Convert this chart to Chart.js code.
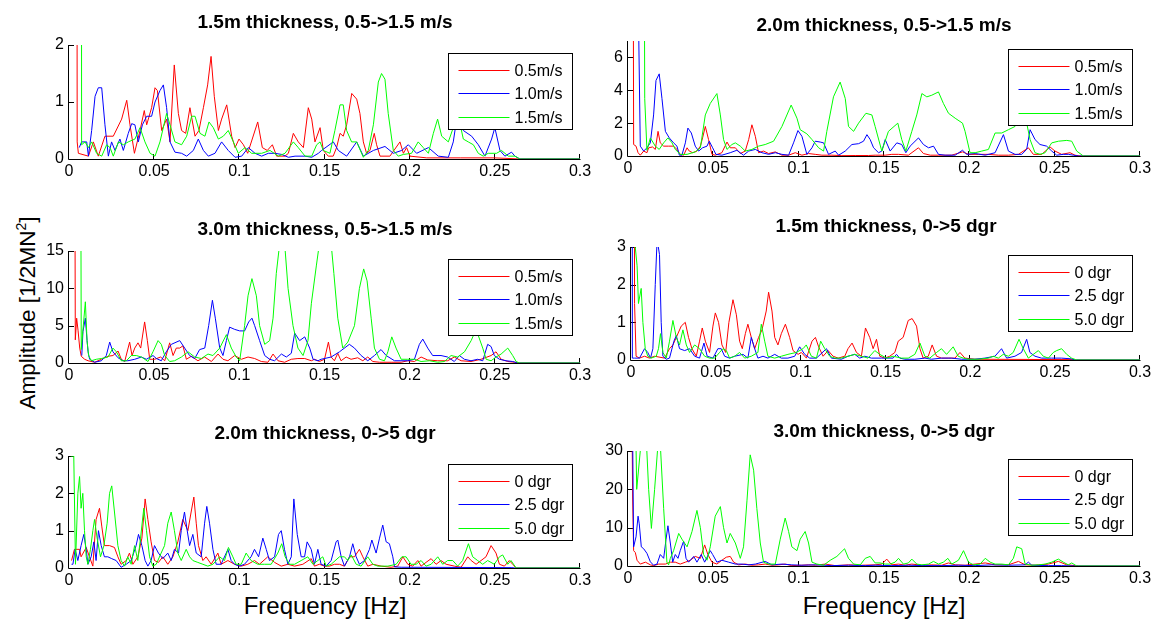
<!DOCTYPE html>
<html>
<head>
<meta charset="utf-8">
<script src="https://cdn.jsdelivr.net/npm/chart.js@4.4.1/dist/chart.umd.min.js"></script>
<style>
  body { margin: 0; background: #fff; width: 1154px; height: 623px; position: relative; overflow: hidden;
         font-family: "Liberation Sans", Arial, sans-serif; color: #000; }
  canvas { position: absolute; }
  .title { position: absolute; font-weight: bold; font-size: 19px; transform: translate(-50%, -50%); white-space: nowrap; }
  .xlab { position: absolute; font-size: 24px; transform: translate(-50%, -50%); white-space: nowrap; }
  .ylab { position: absolute; font-size: 22.5px; transform: translate(-50%, -50%) rotate(-90deg); white-space: nowrap; }
  .ylab sup { font-size: 14px; }
</style>
</head>
<body>
<div class="ylab" style="left:27px; top:313px;">Amplitude [1/2MN<sup>2</sup>]</div>
<div class="xlab" style="left:325px; top:606px;">Frequency [Hz]</div>
<div class="xlab" style="left:884px; top:606px;">Frequency [Hz]</div>
<script>
// spectra as [frequency Hz, amplitude] pairs

// 1.5m thickness, speed sweep
const t15v05 = [[0.0038,40],[0.0048,0.3],[0.0055,0.1],[0.0114,0.05],[0.0143,0.3],[0.0172,0.05],[0.0211,0.4],[0.026,0.4],[0.0309,0.7],[0.0339,1.03],[0.0358,0.6],[0.0384,0.1],[0.0417,0.5],[0.0442,0.85],[0.0456,0.6],[0.0485,0.9],[0.0505,1.25],[0.0519,1.2],[0.0544,0.5],[0.0573,0.7],[0.0593,0.3],[0.0618,1.65],[0.0642,0.8],[0.0661,0.5],[0.0685,0.45],[0.071,0.9],[0.074,0.4],[0.0763,0.5],[0.0789,0.9],[0.0814,1.3],[0.0834,1.8],[0.0853,1.1],[0.0877,0.5],[0.0896,0.7],[0.0926,0.95],[0.0955,0.4],[0.0975,0.2],[0.0998,0.35],[0.1024,0.25],[0.1049,0.1],[0.1108,0.65],[0.1135,0.2],[0.1164,0.15],[0.1194,0.25],[0.1219,0.05],[0.1268,0.05],[0.1288,0.1],[0.1317,0.45],[0.1346,0.3],[0.1376,0.2],[0.1405,0.9],[0.1425,0.7],[0.1444,0.3],[0.1474,0.55],[0.1493,0.15],[0.1522,0.05],[0.1551,0.05],[0.1571,0.2],[0.1591,0.45],[0.161,0.4],[0.163,0.6],[0.166,1.15],[0.1689,1.05],[0.1708,0.8],[0.1728,0.3],[0.1747,0.1],[0.1767,0.15],[0.1792,0.45],[0.1806,0.25],[0.1826,0.05],[0.1884,0.05],[0.1943,0.3],[0.1963,0.1],[0.1982,0.2],[0.2002,0.05],[0.21,0.02],[0.23,0.02],[0.25,0.02],[0.2649,0],[0.3,0]];
const t15v10 = [[0.006,0.2],[0.0074,0.3],[0.0104,0.3],[0.0114,0.05],[0.0133,0.5],[0.0153,1.1],[0.0172,1.25],[0.0192,1.25],[0.0211,0.6],[0.0231,0.05],[0.025,0.3],[0.027,0.15],[0.0299,0.35],[0.0319,0.15],[0.0348,0.45],[0.0368,0.62],[0.0387,0.6],[0.0407,0.3],[0.0431,0.6],[0.0456,0.75],[0.0485,0.75],[0.0505,1.0],[0.0534,1.2],[0.0554,1.3],[0.0573,0.9],[0.0593,0.3],[0.0622,0.12],[0.0661,0.1],[0.0691,0.05],[0.073,0.15],[0.0759,0.35],[0.0789,0.15],[0.0818,0.05],[0.0857,0.1],[0.0896,0.3],[0.0935,0.15],[0.0975,0.03],[0.1014,0.05],[0.1053,0.2],[0.1092,0.1],[0.1131,0.05],[0.117,0.1],[0.1209,0.1],[0.1249,0.08],[0.1288,0.03],[0.1327,0.05],[0.1386,0.05],[0.1425,0.03],[0.1464,0.1],[0.1483,0.15],[0.1552,0.3],[0.1581,0.15],[0.163,0.05],[0.1689,0.3],[0.1728,0.05],[0.1787,0.15],[0.1855,0.22],[0.1904,0.1],[0.1953,0.15],[0.1992,0.25],[0.2041,0.1],[0.211,0.2],[0.2168,0.05],[0.2227,0.03],[0.2256,0.3],[0.2276,0.7],[0.2315,0.5],[0.2364,0.4],[0.2403,0.25],[0.2442,0.05],[0.2481,0.35],[0.25,0.55],[0.253,0.15],[0.2559,0.05],[0.2598,0.12],[0.2618,0.05],[0.2647,0],[0.3,0]];
const t15v15 = [[0.0068,40],[0.0074,0.25],[0.0094,0.3],[0.0114,0.2],[0.0133,0.3],[0.0162,0.1],[0.0192,0.05],[0.0221,0.25],[0.0241,0.2],[0.026,0.05],[0.029,0.3],[0.0319,0.25],[0.0348,0.3],[0.0387,0.35],[0.0417,0.55],[0.0446,0.3],[0.0476,0.1],[0.0505,0.05],[0.0534,0.3],[0.0573,0.8],[0.0593,0.6],[0.0622,0.3],[0.0661,0.25],[0.0691,0.4],[0.072,0.75],[0.074,0.75],[0.0769,0.45],[0.0798,0.4],[0.0822,0.65],[0.0847,0.55],[0.0877,0.35],[0.0906,0.4],[0.0935,0.5],[0.0965,0.3],[0.0994,0.1],[0.1033,0.2],[0.1072,0.1],[0.1131,0.1],[0.118,0.15],[0.1229,0.05],[0.1268,0.1],[0.1317,0.3],[0.1346,0.2],[0.1386,0.05],[0.1425,0.05],[0.1454,0.25],[0.1474,0.3],[0.1493,0.15],[0.1532,0.1],[0.1561,0.5],[0.1591,0.95],[0.161,0.95],[0.163,0.5],[0.1659,0.3],[0.1689,0.3],[0.1728,0.03],[0.1757,0.15],[0.1787,0.6],[0.1816,1.35],[0.1835,1.5],[0.1855,1.4],[0.1874,0.8],[0.1904,0.15],[0.1933,0.05],[0.1963,0.08],[0.2011,0.1],[0.205,0.3],[0.208,0.2],[0.211,0.1],[0.2139,0.45],[0.2164,0.7],[0.2188,0.4],[0.2227,0.3],[0.2256,0.55],[0.2286,0.75],[0.2315,0.35],[0.2344,0.3],[0.2374,0.25],[0.2403,0.1],[0.2432,0.05],[0.2461,0.1],[0.251,0.1],[0.2539,0.15],[0.2579,0.05],[0.2618,0.05],[0.2647,0],[0.3,0]];

// 2.0m thickness, speed sweep
const t20v05 = [[0.0025,40],[0.0033,0.7],[0.0047,0.6],[0.0059,0.2],[0.0072,0.05],[0.0092,0.3],[0.0111,0.2],[0.0121,0.5],[0.0144,0.55],[0.016,0.4],[0.0176,1.5],[0.0189,0.8],[0.0209,0.6],[0.0238,0.6],[0.0267,0.6],[0.0287,0.4],[0.0306,0.1],[0.0326,0.05],[0.0346,0.5],[0.0359,0.3],[0.0379,0.2],[0.0404,0.3],[0.0424,0.6],[0.0437,1.1],[0.0453,1.8],[0.0472,1.0],[0.0492,0.1],[0.0511,0.05],[0.055,0.2],[0.058,0.85],[0.0599,0.5],[0.0629,0.5],[0.0658,0.15],[0.0687,0.3],[0.0707,1.0],[0.0726,1.9],[0.0746,1.2],[0.0765,0.2],[0.0794,0.3],[0.0824,0.15],[0.0863,0.25],[0.0902,0.05],[0.0941,0.05],[0.098,0.2],[0.1019,0.05],[0.1058,0.15],[0.1097,0.1],[0.1136,0.05],[0.1195,0.05],[0.1253,0.02],[0.1331,0.03],[0.1409,0.03],[0.1448,0.05],[0.1507,0.05],[0.1546,0.1],[0.1585,0.1],[0.1643,0.05],[0.1702,0.5],[0.1731,0.15],[0.1771,0.05],[0.1819,0.05],[0.1897,0.05],[0.196,0.25],[0.1995,0.1],[0.2053,0.1],[0.2112,0.1],[0.217,0.05],[0.2229,0.05],[0.2288,0.1],[0.2346,0.5],[0.2375,0.1],[0.2424,0.1],[0.2473,0.55],[0.2502,0.3],[0.2541,0.1],[0.259,0.2],[0.2619,0.05],[0.2649,0],[0.3,0]];
const t20v10 = [[0.0055,40],[0.0062,8],[0.0072,0.6],[0.0092,0.3],[0.0111,0.5],[0.0131,0.8],[0.015,2.5],[0.0164,4.6],[0.0183,5.0],[0.0199,3.5],[0.0219,1.5],[0.0242,1.1],[0.0267,0.8],[0.0287,0.6],[0.0301,0.05],[0.0316,0.05],[0.0336,0.8],[0.0351,1.7],[0.0371,1.4],[0.0394,0.6],[0.0414,0.3],[0.0437,0.5],[0.0463,0.6],[0.0476,0.9],[0.0496,0.5],[0.0515,0.1],[0.055,0.05],[0.0599,0.2],[0.0638,0.35],[0.0677,0.05],[0.0707,0.3],[0.0746,0.4],[0.0785,0.2],[0.0824,0.1],[0.0863,0.2],[0.0902,0.1],[0.0941,0.05],[0.097,0.8],[0.0996,1.55],[0.1019,1.2],[0.1048,0.1],[0.1078,0.5],[0.1097,0.9],[0.1126,0.85],[0.1146,0.8],[0.1175,0.1],[0.1214,0.3],[0.1234,0.05],[0.1273,0.3],[0.1312,0.7],[0.1351,0.75],[0.138,0.9],[0.14,1.3],[0.1419,1.0],[0.1439,0.5],[0.1468,0.2],[0.1487,0.3],[0.1507,1.0],[0.1536,0.3],[0.1575,0.8],[0.1604,0.7],[0.1628,0.2],[0.1653,0.6],[0.1702,1.1],[0.1731,0.7],[0.1761,0.5],[0.179,0.6],[0.1819,0.1],[0.1858,0.05],[0.1917,0.05],[0.196,0.35],[0.1985,0.1],[0.2034,0.15],[0.2093,0.05],[0.2151,0.2],[0.22,1.3],[0.2229,0.3],[0.2268,0.1],[0.2307,0.1],[0.2336,0.4],[0.2356,1.6],[0.2385,1.0],[0.2414,0.7],[0.2453,0.6],[0.2483,0.3],[0.2512,0.05],[0.2551,0.1],[0.258,0.1],[0.2609,0.05],[0.2639,0],[0.3,0]];
const t20v15 = [[0.0088,40],[0.0098,3.5],[0.0111,0.35],[0.0131,1.1],[0.016,0.6],[0.0183,0.4],[0.0209,0.8],[0.0234,1.1],[0.0258,0.8],[0.0277,0.4],[0.0306,0.1],[0.0346,0.1],[0.0394,0.25],[0.0424,0.5],[0.0453,2.5],[0.0482,3.2],[0.0521,3.8],[0.0541,2.5],[0.056,1.0],[0.058,0.4],[0.0609,0.7],[0.0629,0.8],[0.0658,0.6],[0.0687,0.3],[0.0726,0.4],[0.0765,0.6],[0.0804,0.7],[0.0853,0.9],[0.0902,1.8],[0.0956,3.1],[0.099,2.3],[0.1009,1.6],[0.1048,1.35],[0.1078,1.0],[0.1117,0.5],[0.1146,0.3],[0.1165,1.5],[0.1204,3.6],[0.1243,4.5],[0.1273,3.5],[0.1292,1.8],[0.1322,1.5],[0.1351,2.0],[0.1394,2.6],[0.1429,2.5],[0.1448,1.8],[0.1487,0.3],[0.1526,1.5],[0.1581,2.0],[0.1604,1.0],[0.1628,0.3],[0.1663,1.5],[0.1692,2.5],[0.1722,3.8],[0.1751,3.6],[0.178,3.7],[0.1819,3.9],[0.1848,3.2],[0.1878,2.6],[0.1917,2.3],[0.196,2.0],[0.1975,1.5],[0.2004,0.2],[0.2034,0.2],[0.2073,0.3],[0.2112,0.4],[0.2151,1.4],[0.219,1.4],[0.2229,1.6],[0.2268,1.8],[0.2307,2.3],[0.2336,2.0],[0.2356,1.0],[0.2385,0.2],[0.2414,0.1],[0.2444,0.2],[0.2483,0.8],[0.2522,0.9],[0.2571,0.95],[0.26,0.9],[0.2629,0.3],[0.2668,0],[0.3,0]];

// 3.0m thickness, speed sweep
const t30v05 = [[0.0031,60],[0.0037,3.1],[0.0045,6],[0.0053,4.4],[0.0063,2],[0.0072,0.9],[0.0092,0.5],[0.0112,0.3],[0.0151,0.1],[0.019,0.5],[0.0229,0.9],[0.0258,1.0],[0.0288,1.6],[0.0307,0.5],[0.0327,0.2],[0.0356,2.8],[0.037,1.0],[0.0386,2.0],[0.0405,2.7],[0.0421,2.0],[0.0444,5.5],[0.046,3.0],[0.0474,0.5],[0.0503,0.5],[0.0538,0.8],[0.0562,0.3],[0.0591,2.7],[0.0611,1.0],[0.063,2.0],[0.065,2.0],[0.0669,2.3],[0.0689,0.5],[0.0718,0.9],[0.0757,0.3],[0.0796,0.8],[0.0836,0.2],[0.0875,1.2],[0.0904,0.5],[0.0933,0.3],[0.0973,1.0],[0.1012,0.5],[0.1051,0.8],[0.109,0.6],[0.1129,0.2],[0.1168,0.1],[0.1198,1.2],[0.1227,0.3],[0.1266,0.1],[0.1305,0.5],[0.1344,0.6],[0.1384,0.6],[0.1423,0.3],[0.1441,0.5],[0.147,0.2],[0.15,0.5],[0.1523,2.8],[0.1539,0.8],[0.1558,0.3],[0.1578,1.3],[0.1597,0.3],[0.1627,0.8],[0.1656,0.5],[0.1695,0.7],[0.1725,0.3],[0.1754,0.8],[0.1784,0.2],[0.1823,0.1],[0.1891,0.1],[0.195,0.1],[0.1989,0.3],[0.2028,0.2],[0.2067,0.8],[0.2106,0.4],[0.2165,0.3],[0.2223,0.3],[0.2262,0.8],[0.2302,0.3],[0.236,0.2],[0.2419,0.5],[0.2478,1.0],[0.2507,1.5],[0.2537,0.5],[0.2576,0.2],[0.2615,0.1],[0.2644,0],[0.3,0]];
const t30v10 = [[0.0075,1.0],[0.0082,4.2],[0.0096,6],[0.0106,3],[0.0112,1.5],[0.0121,0.5],[0.0151,0.1],[0.019,0.3],[0.0219,1.0],[0.0239,2.8],[0.0258,1.5],[0.0288,0.7],[0.0317,0.3],[0.0346,0.3],[0.0386,0.5],[0.0425,0.8],[0.0454,0.5],[0.0493,1.0],[0.0513,0.6],[0.0542,0.3],[0.0571,1.5],[0.0601,2.5],[0.065,3.0],[0.0679,2.0],[0.0708,1.0],[0.0738,0.6],[0.0767,1.8],[0.0797,2.0],[0.082,5.0],[0.0842,8.4],[0.0859,6.0],[0.0885,2.0],[0.0904,1.0],[0.0924,3.0],[0.0943,4.8],[0.0973,4.5],[0.1002,4.3],[0.1031,4.3],[0.1055,5.5],[0.1074,6.0],[0.109,5.0],[0.1119,3.0],[0.1149,1.0],[0.1178,0.5],[0.1207,0.3],[0.1247,1.2],[0.1276,0.8],[0.1305,1.3],[0.1325,4.0],[0.1354,3.0],[0.1384,3.5],[0.1413,2.0],[0.1433,0.5],[0.1462,0.3],[0.148,0.5],[0.1539,0.8],[0.1588,1.5],[0.1646,2.5],[0.1676,2.0],[0.1715,1.0],[0.1754,0.3],[0.1793,1.0],[0.1832,1.8],[0.1862,1.0],[0.1911,0.3],[0.1989,0.3],[0.2028,0.5],[0.2057,2.5],[0.2077,3.2],[0.2106,2.0],[0.2135,1.0],[0.2184,1.0],[0.2223,0.8],[0.2262,0.2],[0.2292,1.0],[0.2321,0.5],[0.236,0.3],[0.2399,0.5],[0.2429,0.3],[0.2458,2.5],[0.2478,2.2],[0.2497,1.0],[0.2527,0.5],[0.2566,0.3],[0.2605,0.2],[0.2634,0],[0.3,0]];
const t30v15 = [[0.0065,60],[0.0072,1.8],[0.0096,8.2],[0.0106,3],[0.0115,1.0],[0.0131,0.3],[0.016,0.5],[0.019,0.6],[0.0229,0.8],[0.0258,2.0],[0.0278,1.5],[0.0307,0.3],[0.0337,0.3],[0.0366,1.0],[0.0395,1.0],[0.0425,0.8],[0.0464,0.2],[0.0493,1.5],[0.0523,3.0],[0.0542,2.5],[0.0562,1.0],[0.0591,0.2],[0.062,0.3],[0.066,0.8],[0.0699,1.5],[0.0738,0.8],[0.0777,0.6],[0.0816,1.2],[0.0845,1.0],[0.0885,2.0],[0.0924,3.8],[0.0953,2.0],[0.0982,0.8],[0.1002,0.3],[0.1031,5.0],[0.1051,9.0],[0.1074,11.3],[0.11,9.0],[0.1119,5.0],[0.1149,2.5],[0.1178,3.0],[0.1198,6.0],[0.1217,12.0],[0.1237,16],[0.1266,16],[0.1286,10],[0.1315,5],[0.1344,2],[0.1374,1],[0.1403,3],[0.1423,8],[0.1452,13],[0.147,16],[0.1539,16],[0.1555,12],[0.1578,6],[0.1607,2.0],[0.1637,2.8],[0.1676,5.0],[0.1705,10],[0.173,12.6],[0.175,11],[0.1774,6],[0.1793,2.0],[0.1823,0.5],[0.1852,0.3],[0.1872,1.5],[0.1895,3.5],[0.192,2.0],[0.195,0.5],[0.1989,0.5],[0.2028,0.5],[0.2067,0.2],[0.2116,0.3],[0.2165,0.1],[0.2204,0.2],[0.2243,1.0],[0.2282,0.8],[0.2322,1.5],[0.2361,3.0],[0.239,4.5],[0.2429,2.0],[0.2449,0.5],[0.2478,0.3],[0.2507,0.8],[0.2537,1.2],[0.2576,2.0],[0.2605,1.0],[0.2625,0.2],[0.2644,0],[0.3,0]];

// 1.5m thickness, heading sweep
const t15d0 = [[0.0008,40],[0.0021,1.5],[0.003,0.1],[0.005,0.05],[0.008,0.1],[0.0109,0.05],[0.0139,0.1],[0.0198,0.05],[0.0227,0.3],[0.0247,0.4],[0.0267,0.6],[0.0296,0.9],[0.032,1.0],[0.0339,0.6],[0.0359,0.3],[0.0385,0.1],[0.0404,0.5],[0.042,0.85],[0.0438,0.5],[0.0463,0.2],[0.0483,0.9],[0.0497,1.25],[0.0516,1.0],[0.0536,0.4],[0.0558,0.2],[0.0577,1.0],[0.0601,1.6],[0.0621,1.2],[0.064,0.5],[0.0656,0.3],[0.0674,0.7],[0.0689,0.95],[0.0709,0.6],[0.0729,0.3],[0.0752,0.6],[0.0772,0.8],[0.0797,1.3],[0.0811,1.8],[0.0831,1.3],[0.0847,0.6],[0.0866,0.4],[0.0886,0.7],[0.091,0.95],[0.0935,0.6],[0.0955,0.25],[0.0985,0.15],[0.1004,0.2],[0.1034,0.05],[0.1067,0.5],[0.1087,0.6],[0.1106,0.35],[0.1132,0.1],[0.1162,0.25],[0.1191,0.1],[0.1221,0.05],[0.126,0.1],[0.1279,0.3],[0.1303,0.45],[0.1329,0.2],[0.1358,0.1],[0.1382,0.85],[0.1407,0.6],[0.1427,0.3],[0.1447,0.55],[0.1466,0.1],[0.1496,0.05],[0.1525,0.1],[0.1555,0.2],[0.1575,0.5],[0.1604,0.6],[0.1634,1.05],[0.1657,1.1],[0.1683,0.9],[0.1703,0.3],[0.1722,0.05],[0.1752,0.1],[0.1775,0.4],[0.1801,0.1],[0.183,0.05],[0.187,0.05],[0.1909,0.05],[0.1939,0.2],[0.1968,0.05],[0.2027,0.02],[0.26,0.01],[0.262,0],[0.3,0]];
const t15d25 = [[0.0003,40],[0.0008,0.05],[0.0021,0.05],[0.005,0.05],[0.008,0.3],[0.0099,0.2],[0.0115,0.05],[0.0129,0.3],[0.0143,2.0],[0.0154,3.2],[0.0168,2.8],[0.0178,1.0],[0.0188,0.1],[0.0208,0.02],[0.0227,0.05],[0.0253,0.5],[0.0267,0.65],[0.0286,0.3],[0.0316,0.25],[0.0345,0.3],[0.0375,0.1],[0.0404,0.05],[0.043,0.45],[0.0449,0.1],[0.0483,0.05],[0.0512,0.3],[0.0532,0.3],[0.0552,0.1],[0.0581,0.05],[0.0611,0.1],[0.066,0.15],[0.0689,0.05],[0.0709,0.6],[0.0729,0.3],[0.0748,0.05],[0.0778,0.1],[0.0807,0.05],[0.0847,0.15],[0.0886,0.05],[0.0925,0.05],[0.0965,0.1],[0.0994,0.35],[0.1024,0.15],[0.1053,0.05],[0.1093,0.05],[0.1152,0.3],[0.1181,0.05],[0.124,0.02],[0.1279,0.1],[0.1319,0.15],[0.1348,0.05],[0.1378,0.1],[0.1417,0.05],[0.1476,0.05],[0.1545,0.05],[0.1565,0.15],[0.1584,0.05],[0.1614,0.02],[0.1673,0.02],[0.1732,0.05],[0.1771,0.02],[0.183,0.05],[0.1889,0.05],[0.1948,0.02],[0.2027,0.02],[0.2086,0.05],[0.2145,0.1],[0.2184,0.3],[0.2214,0.05],[0.2263,0.1],[0.2302,0.2],[0.2332,0.55],[0.2351,0.2],[0.2381,0.1],[0.242,0.05],[0.2479,0.05],[0.2538,0.05],[0.2597,0.03],[0.2617,0],[0.3,0]];
const t15d50 = [[0.0015,40],[0.0025,3.0],[0.0036,2.5],[0.0044,1.5],[0.006,1.9],[0.007,1.0],[0.0084,0.3],[0.0099,0.1],[0.0119,0.05],[0.0149,0.1],[0.0162,0.3],[0.0174,0.7],[0.0188,0.2],[0.0208,0.05],[0.0227,0.5],[0.0247,1.05],[0.0267,0.6],[0.0286,0.4],[0.0306,0.8],[0.0326,0.4],[0.0345,0.2],[0.0375,0.4],[0.0404,0.3],[0.0434,0.1],[0.0463,0.05],[0.0493,0.05],[0.0522,0.2],[0.0542,0.3],[0.0562,0.25],[0.0581,0.05],[0.0611,0.1],[0.064,0.2],[0.067,0.05],[0.0709,0.1],[0.0748,0.2],[0.0768,0.95],[0.0788,0.5],[0.0807,0.1],[0.0847,0.05],[0.0886,0.1],[0.0925,0.15],[0.0974,0.2],[0.1014,0.3],[0.1033,0.4],[0.1063,0.1],[0.1093,0.05],[0.1118,0.5],[0.1142,0.3],[0.1171,0.1],[0.1201,0.05],[0.124,0.05],[0.1279,0.1],[0.1319,0.15],[0.1358,0.1],[0.1397,0.05],[0.1437,0.25],[0.1466,0.15],[0.1506,0.05],[0.1545,0.1],[0.1594,0.05],[0.1634,0.05],[0.1673,0.15],[0.1703,0.45],[0.1732,0.1],[0.1761,0.05],[0.1801,0.2],[0.183,0.3],[0.186,0.15],[0.1899,0.35],[0.1928,0.1],[0.1958,0.05],[0.1988,0.02],[0.2047,0.02],[0.2106,0.05],[0.2135,0.1],[0.2165,0.05],[0.2194,0.15],[0.2224,0.1],[0.2253,0.2],[0.2287,0.55],[0.2312,0.3],[0.2342,0.05],[0.2371,0.15],[0.2401,0.25],[0.243,0.1],[0.246,0.05],[0.2489,0.2],[0.2509,0.25],[0.2538,0.3],[0.2568,0.15],[0.2597,0.05],[0.2627,0],[0.3,0]];

// 2.0m thickness, heading sweep
const t20d0 = [[0.0015,0.2],[0.0032,0.5],[0.0062,0.5],[0.0071,0.3],[0.0101,0.55],[0.012,0.3],[0.014,0.05],[0.0159,1.3],[0.0179,1.6],[0.0193,1.1],[0.0208,0.6],[0.0238,0.6],[0.0267,0.55],[0.0287,0.3],[0.0306,0.1],[0.0336,0.2],[0.0355,0.4],[0.0375,0.1],[0.0404,0.3],[0.0428,0.8],[0.0447,1.85],[0.0463,1.3],[0.0482,0.7],[0.0502,0.2],[0.0525,0.15],[0.0551,0.3],[0.058,0.1],[0.061,0.3],[0.0639,0.7],[0.0668,1.3],[0.0698,1.0],[0.0717,1.5],[0.0733,1.9],[0.0747,1.2],[0.076,0.6],[0.0786,0.2],[0.0805,0.3],[0.0835,0.1],[0.0874,0.4],[0.0893,0.1],[0.0933,0.2],[0.0972,0.1],[0.1011,0.05],[0.105,0.1],[0.1089,0.2],[0.1118,0.1],[0.1167,0.3],[0.1207,0.15],[0.1246,0.05],[0.1285,0.1],[0.1324,0.05],[0.1373,0.1],[0.1422,0.25],[0.1441,0.05],[0.147,0.1],[0.15,0.05],[0.1529,0.05],[0.1559,0.1],[0.1588,0.1],[0.1617,0.05],[0.1647,0.3],[0.1676,0.3],[0.1705,0.5],[0.1725,0.3],[0.1754,0.05],[0.1784,0.1],[0.1833,0.05],[0.1891,0.02],[0.193,0.05],[0.196,0.3],[0.1989,0.1],[0.2018,0.05],[0.2048,0.2],[0.2067,0.05],[0.2096,0.15],[0.2126,0.25],[0.2155,0.1],[0.2184,0.2],[0.2214,0.1],[0.2263,0.05],[0.2302,0.02],[0.2341,0.3],[0.2361,0.2],[0.239,0.1],[0.2419,0.2],[0.2448,0.3],[0.2478,0.6],[0.2507,0.4],[0.2527,0.1],[0.2556,0.05],[0.2585,0.2],[0.2605,0.1],[0.2625,0],[0.3,0]];
const t20d25 = [[0.0015,0.1],[0.0023,0.1],[0.0036,0.5],[0.0052,0.2],[0.0071,0.6],[0.0087,0.9],[0.0101,0.5],[0.0111,0.1],[0.013,0.3],[0.0146,0.7],[0.0159,0.2],[0.0173,1.0],[0.0189,0.6],[0.0208,0.3],[0.0228,0.3],[0.0251,0.25],[0.0277,0.2],[0.0306,0.02],[0.0336,0.1],[0.0365,0.2],[0.0394,0.6],[0.0408,0.9],[0.0428,0.6],[0.0447,0.2],[0.0463,0.05],[0.0482,0.2],[0.0502,0.6],[0.0525,0.4],[0.0551,0.25],[0.058,0.4],[0.06,0.2],[0.0619,0.5],[0.0643,0.4],[0.0659,1.0],[0.0678,1.5],[0.0694,1.0],[0.0708,0.6],[0.0727,0.9],[0.0747,0.4],[0.0776,0.3],[0.0796,1.2],[0.0809,1.65],[0.0825,1.2],[0.0845,0.5],[0.0864,0.1],[0.0893,0.1],[0.0933,0.5],[0.0952,0.2],[0.0972,0.1],[0.1001,0.05],[0.103,0.1],[0.1069,0.3],[0.1089,0.5],[0.1113,0.3],[0.1138,0.8],[0.1158,0.5],[0.1177,0.2],[0.1207,0.3],[0.123,0.9],[0.1246,1.0],[0.1265,0.5],[0.1285,0.1],[0.1305,0.3],[0.132,1.85],[0.134,0.9],[0.1363,0.3],[0.1383,0.3],[0.1398,0.7],[0.1422,0.5],[0.1441,0.1],[0.1461,0.5],[0.148,0.1],[0.151,0.05],[0.1539,0.2],[0.1568,0.7],[0.1578,0.75],[0.1598,0.3],[0.1617,0.05],[0.1647,0.3],[0.1666,0.65],[0.1686,0.3],[0.1705,0.1],[0.1735,0.2],[0.1764,0.5],[0.1778,0.75],[0.1803,0.4],[0.1823,0.8],[0.1842,1.15],[0.1862,0.7],[0.1881,0.65],[0.1901,0.3],[0.1911,0.03],[0.195,0.02],[0.26,0.01],[0.262,0],[0.3,0]];
const t20d50 = [[0.001,3.0],[0.0028,3.0],[0.0038,0.1],[0.0052,2.0],[0.0062,2.45],[0.0071,1.6],[0.0081,2.0],[0.0091,1.0],[0.0101,0.3],[0.0111,0.1],[0.0126,0.5],[0.014,1.0],[0.015,1.3],[0.0165,0.8],[0.0185,0.3],[0.0205,0.6],[0.0224,1.2],[0.0238,2.0],[0.0251,2.2],[0.0267,1.5],[0.0287,0.6],[0.0306,0.2],[0.0326,0.05],[0.0345,0.3],[0.0365,0.1],[0.0385,0.6],[0.0404,0.2],[0.042,0.8],[0.0439,1.6],[0.0455,1.0],[0.0473,0.3],[0.0492,0.05],[0.0512,0.1],[0.0541,0.4],[0.0561,0.6],[0.058,1.2],[0.06,1.5],[0.0619,1.0],[0.0639,0.4],[0.0659,0.2],[0.0688,0.5],[0.0708,0.3],[0.0727,0.2],[0.0756,0.15],[0.0786,0.1],[0.0815,0.05],[0.0845,0.1],[0.0884,0.3],[0.0913,0.2],[0.0936,0.55],[0.0962,0.3],[0.0981,0.1],[0.1011,0.1],[0.104,0.4],[0.1069,0.2],[0.1108,0.1],[0.1148,0.1],[0.1187,0.1],[0.1226,0.4],[0.1249,0.65],[0.1269,0.3],[0.1294,0.1],[0.1324,0.1],[0.1363,0.2],[0.1402,0.3],[0.1432,0.1],[0.1461,0.2],[0.149,0.3],[0.151,0.05],[0.1539,0.1],[0.1588,0.3],[0.1617,0.3],[0.1637,0.2],[0.1657,0.35],[0.1686,0.1],[0.1715,0.05],[0.1754,0.3],[0.1784,0.1],[0.1813,0.05],[0.1872,0.05],[0.1921,0.1],[0.1954,0.3],[0.1979,0.3],[0.2008,0.1],[0.2038,0.1],[0.2067,0.2],[0.2096,0.05],[0.2126,0.1],[0.2165,0.3],[0.2194,0.1],[0.2223,0.2],[0.2253,0.2],[0.2282,0.05],[0.2311,0.2],[0.2345,0.65],[0.237,0.3],[0.2399,0.2],[0.2429,0.1],[0.2458,0.2],[0.2497,0.1],[0.2527,0.3],[0.2546,0.35],[0.2576,0.1],[0.2595,0.2],[0.2625,0],[0.3,0]];

// 3.0m thickness, heading sweep
const t30d0 = [[0.002,60],[0.0027,18],[0.0033,4],[0.0043,3.5],[0.0053,1.5],[0.0072,0.5],[0.0102,1.0],[0.0131,0.3],[0.015,0.1],[0.018,0.5],[0.0219,0.5],[0.0248,1.0],[0.0277,1.0],[0.0306,0.5],[0.0336,1.0],[0.0365,1.5],[0.0394,2.5],[0.0424,2.0],[0.0449,5.5],[0.0468,3.0],[0.0492,1.0],[0.0521,0.5],[0.055,1.5],[0.0576,2.3],[0.0599,2.5],[0.0619,1.0],[0.0648,0.3],[0.0687,0.5],[0.0726,0.2],[0.0765,0.3],[0.0804,0.5],[0.0843,0.2],[0.0882,0.3],[0.0921,0.5],[0.096,0.1],[0.1019,0.2],[0.1058,0.3],[0.1097,0.2],[0.1156,0.5],[0.1214,0.1],[0.1292,0.3],[0.137,0.2],[0.1448,0.3],[0.1487,0.5],[0.1516,1.8],[0.1545,0.3],[0.1585,0.5],[0.1624,0.2],[0.1663,0.5],[0.1722,0.2],[0.178,0.3],[0.1839,0.2],[0.1878,0.8],[0.1917,0.3],[0.1975,0.2],[0.2034,0.5],[0.2093,0.8],[0.2151,0.3],[0.2229,0.3],[0.2288,1.2],[0.2327,0.3],[0.2385,0.2],[0.2463,0.5],[0.2522,1.2],[0.2571,0.3],[0.262,0.1],[0.2639,0],[0.3,0]];
const t30d25 = [[0.0022,60],[0.0033,5],[0.0047,7.6],[0.0059,13],[0.0066,11],[0.0078,5],[0.0092,4.5],[0.0111,3.3],[0.0131,1.1],[0.015,0.2],[0.017,0.5],[0.0189,3.0],[0.0209,2.0],[0.0223,7],[0.0234,10.5],[0.0248,6],[0.0262,1.0],[0.0277,3.0],[0.0293,2.0],[0.0306,4.0],[0.0326,6.5],[0.034,2.0],[0.0355,1.0],[0.0385,2.5],[0.0404,1.0],[0.0429,3.0],[0.0449,1.0],[0.0482,4.0],[0.0496,3.0],[0.0521,1.0],[0.055,1.5],[0.059,1.0],[0.0629,0.5],[0.0668,0.5],[0.0707,0.3],[0.0746,0.5],[0.0804,1.2],[0.0843,0.3],[0.0902,0.5],[0.096,0.3],[0.1019,0.2],[0.1097,0.3],[0.1195,0.1],[0.1292,0.2],[0.139,0.1],[0.1448,0.2],[0.1546,0.1],[0.1643,0.2],[0.1741,0.1],[0.1839,0.1],[0.1936,0.2],[0.2034,0.1],[0.2132,0.3],[0.2229,0.2],[0.2327,0.3],[0.2346,1.0],[0.2366,0.2],[0.2463,0.1],[0.2541,0.1],[0.262,0],[0.3,0]];
const t30d50 = [[0.0037,60],[0.0051,20],[0.0072,30],[0.0105,35],[0.0121,20],[0.0137,9.8],[0.0156,20],[0.0176,32],[0.0189,32],[0.0209,15],[0.0228,1.0],[0.0238,0.3],[0.0248,2.0],[0.0267,4.0],[0.0297,8.5],[0.0316,7],[0.0346,5.0],[0.0375,9],[0.0404,14.5],[0.0424,10],[0.0443,3.0],[0.0463,1.5],[0.0482,5],[0.0511,13],[0.0541,15.5],[0.056,10],[0.058,6],[0.0599,8.5],[0.0629,6],[0.0658,2.0],[0.0677,5.0],[0.0697,17],[0.0716,29],[0.0736,25],[0.0755,15],[0.0775,6],[0.0794,1.0],[0.0824,0.5],[0.0863,0.5],[0.0892,7],[0.0921,12.5],[0.0941,9],[0.096,5],[0.099,4.0],[0.1009,7],[0.1038,9],[0.1058,6],[0.1078,1.0],[0.1107,0.5],[0.1146,0.2],[0.1185,1.5],[0.1224,2.5],[0.1269,4.5],[0.1292,2.0],[0.1322,0.5],[0.1361,0.3],[0.139,2.0],[0.1419,2.5],[0.1448,0.8],[0.1477,0.8],[0.1507,0.5],[0.1536,0.5],[0.1565,1.0],[0.1585,2.0],[0.1614,0.5],[0.1643,0.8],[0.1663,1.8],[0.1692,0.5],[0.1722,0.3],[0.1761,0.5],[0.179,1.2],[0.1819,0.5],[0.1848,1.0],[0.1874,2.0],[0.1897,0.5],[0.1936,1.5],[0.1966,4.0],[0.1995,1.0],[0.2024,0.3],[0.2063,0.5],[0.2093,2.0],[0.2122,1.0],[0.2151,0.5],[0.219,0.5],[0.2229,0.3],[0.2258,2.0],[0.2278,5.0],[0.2307,4.5],[0.2327,0.5],[0.2366,0.2],[0.2405,0.3],[0.2444,0.5],[0.2483,1.0],[0.2522,1.8],[0.2551,1.0],[0.258,0.3],[0.26,0.8],[0.2629,0],[0.3,0]];

// axis ticks
const xTicks = [0, 0.05, 0.1, 0.15, 0.2, 0.25, 0.3];
const yTicksA = [0, 1, 2];
const yTicksB = [0, 2, 4, 6];
const yTicksC = [0, 5, 10, 15];
const yTicksD = [0, 1, 2, 3];
const yTicksE = [0, 1, 2, 3];
const yTicksF = [0, 10, 20, 30];

// legend entries and titles
const speedLabels = ['0.5m/s', '1.0m/s', '1.5m/s'];
const headingLabels = ['0 dgr', '2.5 dgr', '5.0 dgr'];
const titles = [
  '1.5m thickness, 0.5->1.5 m/s', '2.0m thickness, 0.5->1.5 m/s',
  '3.0m thickness, 0.5->1.5 m/s', '1.5m thickness, 0->5 dgr',
  '2.0m thickness, 0->5 dgr', '3.0m thickness, 0->5 dgr'
];

const lineColors = ['#ff0000', '#0000ff', '#00ff00'];

// plot boxes: [left, top, right, bottom] of the axes, title centre
const panels = [
  { box: [69, 45, 580, 159],   title: [325, 22],  yMax: 2,  yTicks: yTicksA, series: [t15v05, t15v10, t15v15], labels: speedLabels },
  { box: [628, 41, 1140, 156], title: [884, 25],  yMax: 7,  yTicks: yTicksB, series: [t20v05, t20v10, t20v15], labels: speedLabels },
  { box: [69, 251, 580, 363],  title: [325, 229], yMax: 15, yTicks: yTicksC, series: [t30v05, t30v10, t30v15], labels: speedLabels },
  { box: [631, 247, 1140, 360],title: [886, 226], yMax: 3,  yTicks: yTicksD, series: [t15d0, t15d25, t15d50], labels: headingLabels },
  { box: [69, 456, 580, 568],  title: [325, 433], yMax: 3,  yTicks: yTicksE, series: [t20d0, t20d25, t20d50], labels: headingLabels },
  { box: [628, 451, 1140, 566],title: [884, 431], yMax: 30, yTicks: yTicksF, series: [t30d0, t30d25, t30d50], labels: headingLabels }
];

Chart.defaults.font.family = '"Liberation Sans", Arial, sans-serif';
Chart.defaults.font.size = 16;
Chart.defaults.color = '#000';

// matlab-like axes: left and bottom lines with inward ticks, boxed legend top-right
const matlabAxes = {
  id: 'matlabAxes',
  beforeDatasetsDraw(chart) {
    const { ctx, chartArea: a, scales: { x, y } } = chart;
    ctx.save();
    ctx.strokeStyle = '#000';
    ctx.lineWidth = 1;
    ctx.beginPath();
    ctx.moveTo(a.left - 0.5, a.top);
    ctx.lineTo(a.left - 0.5, a.bottom + 0.5);
    ctx.lineTo(a.right + 0.5, a.bottom + 0.5);
    x.ticks.forEach(t => {
      const px = Math.round(x.getPixelForValue(t.value)) - 0.5;
      ctx.moveTo(px, a.bottom);
      ctx.lineTo(px, a.bottom - 5);
    });
    y.ticks.forEach(t => {
      const py = Math.round(y.getPixelForValue(t.value)) + 0.5;
      ctx.moveTo(a.left, py);
      ctx.lineTo(a.left + 5, py);
    });
    ctx.stroke();
    ctx.restore();
  },
  afterDatasetsDraw(chart, args, opts) {
    const { ctx, chartArea: a } = chart;
    const names = opts.names;
    const w = 124, h = 76;
    const bx = Math.round(a.right - 8 - w) + 0.5, by = Math.round(a.top + 8) + 0.5;
    ctx.save();
    ctx.fillStyle = '#fff';
    ctx.fillRect(bx, by, w, h);
    ctx.strokeStyle = '#000';
    ctx.lineWidth = 1;
    ctx.strokeRect(bx, by, w, h);
    ctx.font = '16px "Liberation Sans", Arial, sans-serif';
    ctx.textBaseline = 'middle';
    for (let i = 0; i < names.length; i++) {
      const ry = Math.round(by + 16 + i * 23.5) + 0.5;
      ctx.beginPath();
      ctx.strokeStyle = lineColors[i];
      ctx.moveTo(bx + 10, ry);
      ctx.lineTo(bx + 61, ry);
      ctx.stroke();
      ctx.fillStyle = '#000';
      ctx.fillText(names[i], bx + 66, ry + 1);
    }
    ctx.restore();
  }
};

const fmt = v => String(+Number(v).toFixed(2));
const padL = 50, padR = 20, padT = 20, padB = 30;

panels.forEach((p, idx) => {
  const [l, t, r, b] = p.box;
  const cv = document.createElement('canvas');
  const W = (r - l) + padL + padR, H = (b - t) + padT + padB;
  cv.width = W; cv.height = H;
  cv.style.left = (l - padL) + 'px';
  cv.style.top = (t - padT) + 'px';
  document.body.appendChild(cv);

  const ttl = document.createElement('div');
  ttl.className = 'title';
  ttl.style.left = p.title[0] + 'px';
  ttl.style.top = p.title[1] + 'px';
  ttl.textContent = titles[idx];
  document.body.appendChild(ttl);

  new Chart(cv, {
    type: 'line',
    data: {
      datasets: p.series.map((s, i) => ({
        label: p.labels[i],
        data: s.map(pt => ({ x: pt[0], y: pt[1] })),
        borderColor: lineColors[i],
        borderWidth: 1,
        pointRadius: 0,
        tension: 0,
        fill: false,
        order: 2 - i
      }))
    },
    options: {
      responsive: false,
      animation: false,
      devicePixelRatio: 1,
      layout: { padding: { left: 0, right: padR, top: padT, bottom: 0 } },
      plugins: { legend: { display: false }, tooltip: { enabled: false }, matlabAxes: { names: p.labels.slice() } },
      scales: {
        x: {
          type: 'linear', min: 0, max: 0.3,
          grid: { display: false, drawTicks: false, tickLength: 0 }, border: { display: false },
          afterBuildTicks: s => { s.ticks = xTicks.map(v => ({ value: v })); },
          afterFit: s => { s.height = padB; },
          ticks: { autoSkip: false, maxRotation: 0, padding: 3, callback: fmt }
        },
        y: {
          type: 'linear', min: 0, max: p.yMax,
          grid: { display: false, drawTicks: false, tickLength: 0 }, border: { display: false },
          afterBuildTicks: s => { s.ticks = p.yTicks.map(v => ({ value: v })); },
          afterFit: s => { s.width = padL; },
          ticks: { padding: 5, callback: fmt }
        }
      }
    },
    plugins: [matlabAxes]
  });
});
</script>
</body>
</html>
